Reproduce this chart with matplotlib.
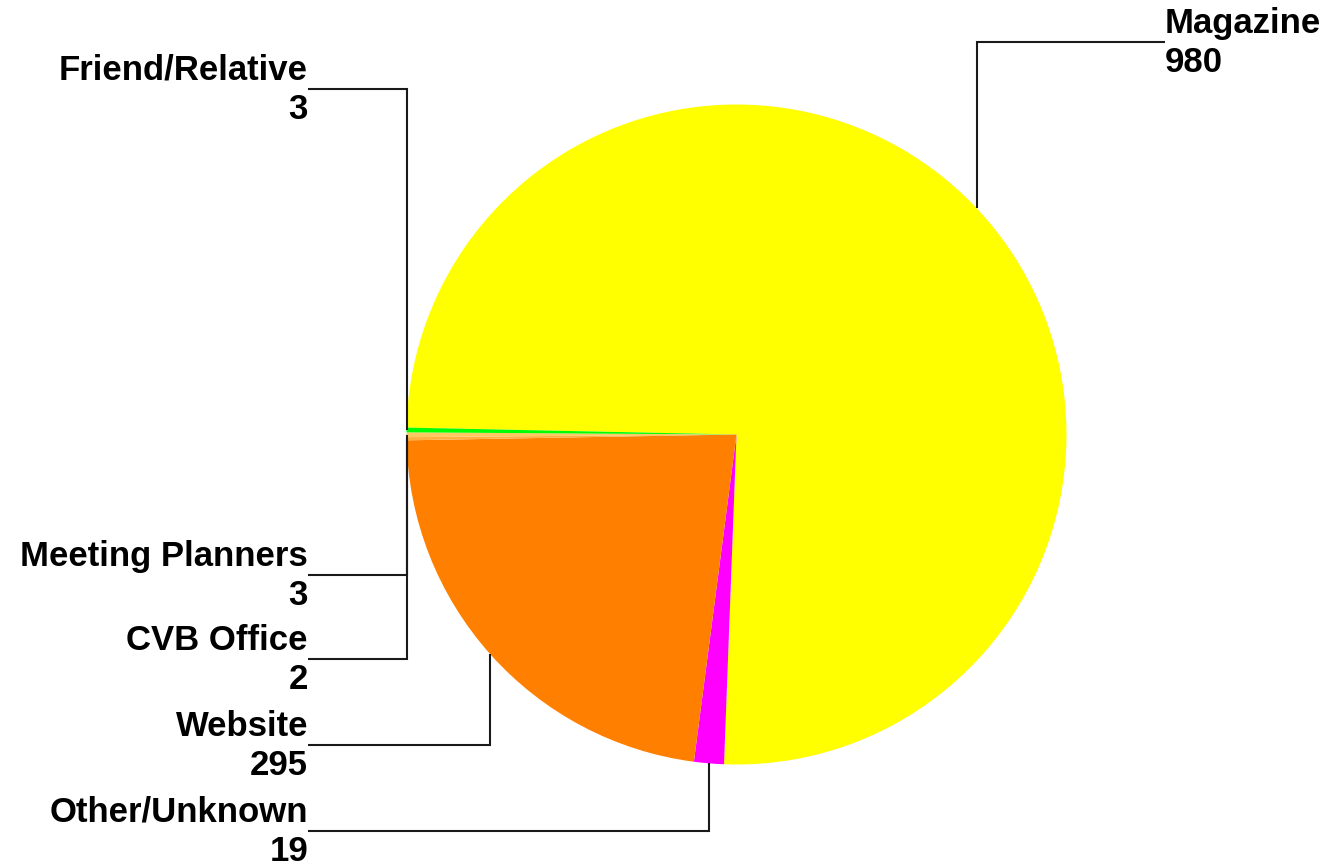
import numpy as np
import matplotlib.pyplot as plt

# lead sources, listed clockwise from the top-left of the pie
sources = ["Magazine", "Other/Unknown", "Website", "CVB Office", "Meeting Planners", "Friend/Relative"]
counts = [980, 19, 295, 2, 3, 3]
colors = ["#FFFF00", "#FF00FF", "#FF8000", "#FFB040", "#FFC860", "#00FF00"]

# label rows, in pixels from the top edge
label_rows = [42, 831, 745, 659, 575, 89]

W, H = 1330, 868
cx, cy, r = 736.5, H - 434.5, 330

plt.rcParams['font.family'] = ['Liberation Sans', 'DejaVu Sans']
fig = plt.figure(figsize=(W / 100, H / 100), dpi=100)
ax = fig.add_axes([0, 0, 1, 1])

wedges, _ = ax.pie(counts, colors=colors, startangle=178.8, counterclock=False,
                   center=(cx, cy), radius=r, wedgeprops=dict(linewidth=0))
ax.set_xlim(0, W)
ax.set_ylim(0, H)
ax.axis('off')

# elbow leader lines from each slice midpoint out to its label
for w, name, n, row in zip(wedges, sources, counts, label_rows):
    mid = np.deg2rad((w.theta1 + w.theta2) / 2)
    px = cx + r * np.cos(mid)
    py = cy + r * np.sin(mid)
    ly = H - row
    if px > cx:
        tx, ha = 1165, 'left'
    else:
        tx, ha = 308, 'right'
    ax.plot([tx, px, px], [ly, ly, py], color='#1a1a1a', lw=1.5,
            solid_capstyle='butt', solid_joinstyle='miter')
    ax.text(tx, ly + 9, name, ha=ha, va='baseline', fontsize=25, fontweight='bold')
    ax.text(tx, ly - 30, str(n), ha=ha, va='baseline', fontsize=25, fontweight='bold')

fig.savefig('out.png', dpi=100)
